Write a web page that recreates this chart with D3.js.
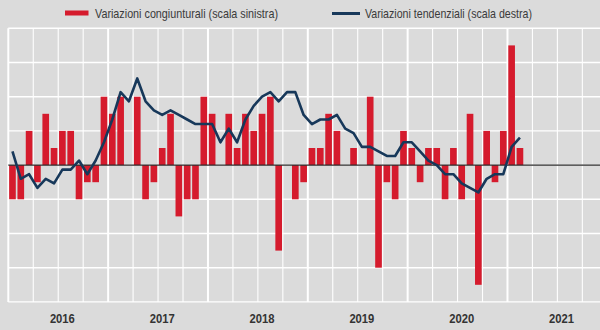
<!DOCTYPE html>
<html>
<head>
<meta charset="utf-8">
<script src="https://cdn.jsdelivr.net/npm/d3@7"></script>
<style>
  html, body { margin: 0; padding: 0; background: #dbdbdb; }
  svg { display: block; }
</style>
</head>
<body>
<div id="chart"></div>
<script>
// ---- data ----
const years = ["2016", "2017", "2018", "2019", "2020", "2021"];
const monthNames = ["gen", "feb", "mar", "apr", "mag", "giu", "lug", "ago", "set", "ott", "nov", "dic"];
// monthly changes (left scale)
const congiunturali = [
  -0.2, -0.2, 0.2, -0.1, 0.3, 0.1, 0.2, 0.2, -0.2, -0.1, -0.1, 0.4,
   0.3,  0.4, 0.0,  0.4, -0.2, -0.1, 0.1, 0.3, -0.3, -0.2, -0.2, 0.4,
   0.3,  0.0, 0.3,  0.1, 0.3, 0.2, 0.3, 0.4, -0.5, 0.0, -0.2, -0.1,
   0.1,  0.1, 0.3,  0.2, 0.0, 0.1, 0.0, 0.4, -0.6, -0.1, -0.2, 0.2,
   0.1, -0.1, 0.1,  0.1, -0.2, 0.1, -0.2, 0.3, -0.7, 0.2, -0.1, 0.2,
   0.7,  0.1
];
// yearly changes (right scale)
const tendenziali = [
   0.3, -0.3, -0.2, -0.5, -0.3, -0.4, -0.1, -0.1, 0.1, -0.2, 0.1, 0.5,
   1.0,  1.6,  1.4,  1.9,  1.4,  1.2,  1.1,  1.2, 1.1,  1.0, 0.9, 0.9,
   0.9,  0.5,  0.8,  0.5,  1.0,  1.3,  1.5,  1.6, 1.4,  1.6, 1.6, 1.1,
   0.9,  1.0,  1.0,  1.1,  0.8,  0.7,  0.4,  0.4, 0.3,  0.2, 0.2, 0.5,
   0.5,  0.3,  0.1,  0.0, -0.2, -0.2, -0.4, -0.5, -0.6, -0.3, -0.2, -0.2,
   0.4,  0.6
];
const leftTicks = [-0.8, -0.6, -0.4, -0.2, 0, 0.2, 0.4, 0.6, 0.8];
const legendLabels = ["Variazioni congiunturali (scala sinistra)", "Variazioni tendenziali (scala destra)"];

// ---- build ----
const W = 600, H = 330;
const pLeft = 8.3, pRight = 607.3, pTop = 28.3, pBottom = 301.9;
const months = [];
years.forEach(y => monthNames.forEach(m => months.push(y + "-" + m)));

const x = d3.scaleBand().domain(months).range([pLeft, pRight]).paddingInner(0.2).paddingOuter(0.1);
const xs = d3.scaleBand().domain(months).range([pLeft, pRight]).padding(0);
const yL = d3.scaleLinear().domain([-0.8, 0.8]).range([pBottom, pTop]);
const yR = d3.scaleLinear().domain([-3, 3]).range([pBottom, pTop]);

const svg = d3.select("#chart").append("svg").attr("width", W).attr("height", H);
svg.append("rect").attr("width", W).attr("height", H).attr("fill", "#dbdbdb");

const grid = svg.append("g");
// horizontal grid
grid.selectAll("line.h").data(leftTicks).join("line")
  .attr("x1", pLeft).attr("x2", W)
  .attr("y1", d => yL(d)).attr("y2", d => yL(d))
  .attr("stroke", "#ffffff").attr("stroke-width", 1.4);
// vertical grid: quarter boundaries
const quarterStarts = months.filter((m, i) => i % 3 === 0).concat(["end"]);
grid.selectAll("line.v").data(quarterStarts).join("line")
  .attr("x1", d => d === "end" ? pRight : xs(d))
  .attr("x2", d => d === "end" ? pRight : xs(d))
  .attr("y1", pTop).attr("y2", pBottom)
  .attr("stroke", "#ffffff")
  .attr("stroke-width", (d, i) => (i % 4 === 0) ? 2 : 1.1);

// bars
svg.append("g").selectAll("rect").data(congiunturali).join("rect")
  .attr("x", (d, i) => x(months[i]))
  .attr("width", x.bandwidth())
  .attr("y", d => yL(Math.max(0, d)))
  .attr("height", d => Math.abs(yL(d) - yL(0)))
  .attr("fill", "#d51b2d");

// zero line
svg.append("line")
  .attr("x1", pLeft).attr("x2", W)
  .attr("y1", yL(0)).attr("y2", yL(0))
  .attr("stroke", "#2a2a2a").attr("stroke-width", 1.3);

// trend line
const line = d3.line()
  .x((d, i) => x(months[i]) + x.bandwidth() / 2)
  .y(d => yR(d));
svg.append("path").datum(tendenziali)
  .attr("d", line)
  .attr("fill", "none")
  .attr("stroke", "#17385a")
  .attr("stroke-width", 2.6)
  .attr("stroke-linejoin", "round");

// x labels (centered on July of each year)
svg.append("g").selectAll("text").data(years).join("text")
  .attr("x", d => x(d + "-lug") + x.bandwidth() / 2)
  .attr("y", 323)
  .attr("text-anchor", "middle")
  .attr("font-family", "'Liberation Sans Narrow', 'Arial Narrow', 'Liberation Sans', Arial, sans-serif")
  .attr("font-weight", "bold")
  .attr("font-size", 13.5)
  .attr("textLength", 25)
  .attr("lengthAdjust", "spacingAndGlyphs")
  .attr("fill", "#333333")
  .text(d => d);

// legend
const lg = svg.append("g");
lg.append("rect").attr("x", 65).attr("y", 10.5).attr("width", 23.5).attr("height", 5).attr("fill", "#d51b2d");
lg.append("text").attr("x", 95).attr("y", 17.5)
  .attr("font-family", "'Liberation Sans Narrow', 'Arial Narrow', 'Liberation Sans', Arial, sans-serif")
  .attr("font-size", 13)
  .attr("textLength", 183).attr("lengthAdjust", "spacingAndGlyphs")
  .attr("fill", "#3a3a3a").text(legendLabels[0]);
lg.append("line").attr("x1", 332).attr("x2", 360).attr("y1", 13.5).attr("y2", 13.5)
  .attr("stroke", "#17385a").attr("stroke-width", 3);
lg.append("text").attr("x", 365).attr("y", 17.5)
  .attr("font-family", "'Liberation Sans Narrow', 'Arial Narrow', 'Liberation Sans', Arial, sans-serif")
  .attr("font-size", 13)
  .attr("textLength", 167).attr("lengthAdjust", "spacingAndGlyphs")
  .attr("fill", "#3a3a3a").text(legendLabels[1]);
</script>
</body>
</html>
